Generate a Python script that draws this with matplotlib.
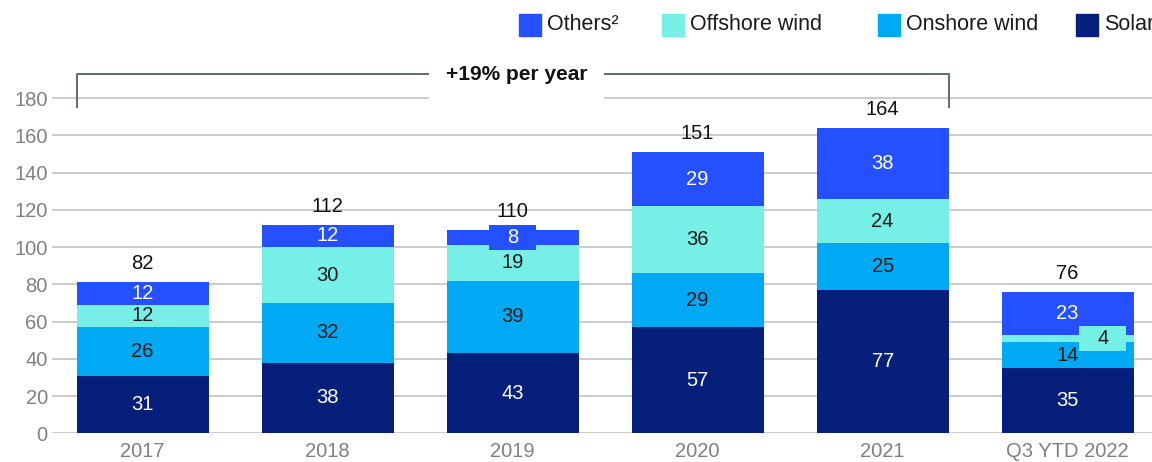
import matplotlib
matplotlib.use("Agg")
import matplotlib.pyplot as plt
from matplotlib.patches import Rectangle
import numpy as np

plt.rcParams['font.family'] = ['Liberation Sans', 'DejaVu Sans']

# data
years = ["2017", "2018", "2019", "2020", "2021", "Q3 YTD 2022"]
solar = [31, 38, 43, 57, 77, 35]
onshore = [26, 32, 39, 29, 25, 14]
offshore = [12, 30, 19, 36, 24, 4]
others = [12, 12, 8, 29, 38, 23]
totals = [82, 112, 110, 151, 164, 76]

colors = {"Solar": "#061f7a", "Onshore wind": "#00a9f4",
          "Offshore wind": "#76f0e6", "Others²": "#2550ff"}
text_colors = {"Solar": "white", "Onshore wind": "#1a1a1a",
               "Offshore wind": "#1a1a1a", "Others²": "white"}

# small segments whose label sits on a box: (series, year) -> x shift
boxed = {("Others²", "2019"): 0.0, ("Offshore wind", "Q3 YTD 2022"): 0.19}

W, H = 1152, 462
PX_X = 185.0   # pixels per category
PX_Y = 1.862   # pixels per unit
fig = plt.figure(figsize=(W / 100, H / 100), dpi=100)
ax = fig.add_axes([52 / W, 1 - 433.3 / H, 1 - 52 / W, 372.4 / H])

x = np.arange(len(years))
width = 0.714
stack = [("Solar", solar), ("Onshore wind", onshore),
         ("Offshore wind", offshore), ("Others²", others)]

bottom = np.zeros(len(years))
for name, vals in stack:
    vals = np.array(vals, dtype=float)
    ax.bar(x, vals, width, bottom=bottom, color=colors[name], zorder=3)
    for i, v in enumerate(vals):
        cy = bottom[i] + v / 2
        cx = x[i]
        key = (name, years[i])
        if key in boxed:
            cx = x[i] + boxed[key]
            bw, bh = 47 / PX_X, 25 / PX_Y
            ax.add_patch(Rectangle((cx - bw / 2, cy - bh / 2), bw, bh,
                                   color=colors[name], zorder=4, lw=0))
        ax.text(cx, cy, f"{int(v)}", ha="center", va="center",
                fontsize=14.5, color=text_colors[name], zorder=5)
    bottom += vals

for i, t in enumerate(totals):
    ax.text(x[i], bottom[i] + 10, f"{t}", ha="center", va="center",
            fontsize=14.5, color="#111111", zorder=5)

# bracket for growth annotation
x0, x1 = x[0] - width / 2, x[4] + width / 2
yb = 192.8
ax.plot([x0, x0, x1, x1], [175, yb, yb, 175], color="#5f6b73",
        lw=1.4, zorder=4, clip_on=False)
ax.text(2.02, yb, "+19% per year", ha="center", va="center", fontsize=15,
        fontweight="bold", color="#111111", zorder=5,
        bbox=dict(boxstyle="square,pad=0.8", fc="white", ec="none"))

ax.set_xlim(-0.49, -0.49 + 1100 / PX_X)
ax.set_ylim(0, 200)
ax.set_yticks(range(0, 181, 20))
ax.set_xticks(x)
ax.set_xticklabels(years)
ax.tick_params(axis="both", length=0, labelsize=14.5, labelcolor="#808080")
ax.tick_params(axis="y", pad=3)
ax.tick_params(axis="x", pad=6)
ax.grid(axis="y", color="#c8c8c8", lw=1.3, zorder=0)
for s in ax.spines.values():
    s.set_visible(False)

# legend drawn in figure pixels
legend_pos = [("Others²", 519, 547), ("Offshore wind", 662, 690),
              ("Onshore wind", 878, 906), ("Solar", 1076, 1104)]
for name, sx, tx in legend_pos:
    fig.patches.append(Rectangle((sx / W, 1 - 36 / H), 22 / W, 22 / H,
                                 transform=fig.transFigure,
                                 color=colors[name]))
    fig.text(tx / W, 1 - 25 / H, name, ha="left", va="center",
             fontsize=15.5, color="#1a1a1a")

fig.savefig("out.png", dpi=100)
